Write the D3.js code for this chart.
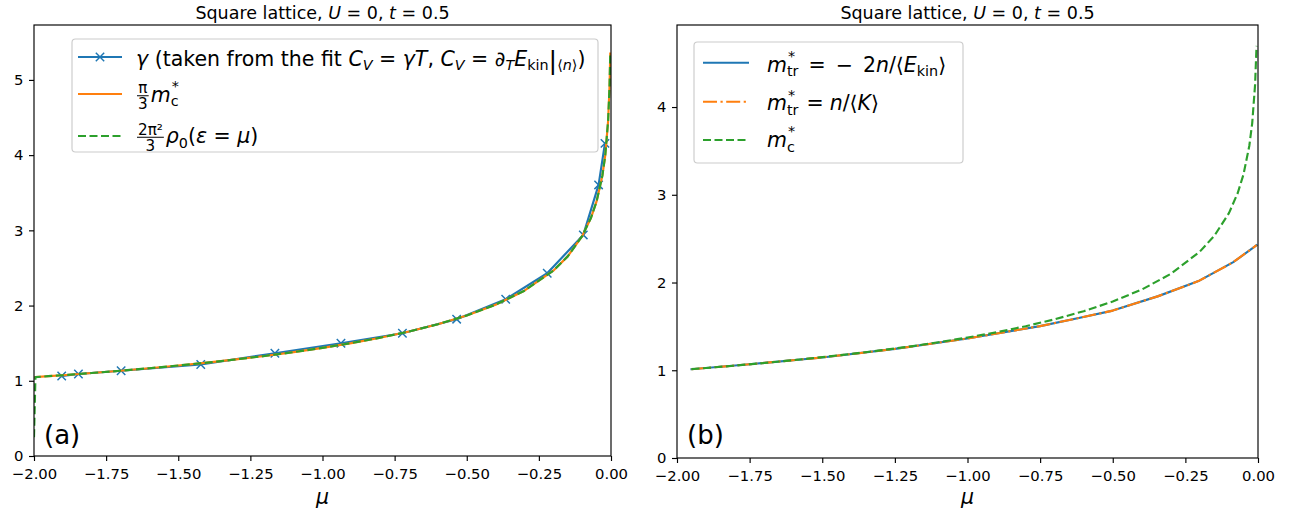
<!DOCTYPE html>
<html>
<head>
<meta charset="utf-8">
<script src="https://cdn.jsdelivr.net/npm/d3@7"></script>
<style>
  body { margin: 0; background: #fff; }
  svg { display: block; }
  text { font-family: "DejaVu Sans", sans-serif; white-space: pre; }
</style>
</head>
<body>
<svg id="fig" width="1293" height="516"></svg>
<script>
// ---------------- data ----------------
const muTicks = [-2, -1.75, -1.5, -1.25, -1, -0.75, -0.5, -0.25, 0];
const yTicksA = [0, 1, 2, 3, 4, 5];
const yTicksB = [0, 1, 2, 3, 4];

// (a) gamma from the linear fit of C_V
const gammaMu  = [-1.904, -1.846, -1.698, -1.422, -1.165, -0.936, -0.723, -0.535, -0.365, -0.221, -0.096, -0.043, -0.021];
const gammaVal = [1.064, 1.090, 1.134, 1.217, 1.366, 1.499, 1.632, 1.819, 2.084, 2.430, 2.939, 3.604, 4.156];

// (a) pi/3 * m_c*
const mcScaledMu  = [-1.995, -1.95, -1.9, -1.8, -1.7, -1.6, -1.5, -1.4, -1.3, -1.2, -1.1, -1.0, -0.9, -0.8, -0.7, -0.6, -0.5, -0.4, -0.3, -0.2, -0.15, -0.1, -0.07, -0.05, -0.03, -0.02, -0.01, -0.005, -0.0026];
const mcScaledVal = [1.049, 1.061, 1.074, 1.103, 1.134, 1.167, 1.203, 1.242, 1.284, 1.330, 1.381, 1.438, 1.501, 1.573, 1.655, 1.752, 1.868, 2.011, 2.198, 2.464, 2.654, 2.923, 3.160, 3.384, 3.724, 3.994, 4.456, 4.919, 5.35];

// (a) 2pi^2/3 * rho0(eps = mu)
const rhoMu  = [-2, -1.995, -1.95, -1.9, -1.8, -1.7, -1.6, -1.5, -1.4, -1.3, -1.2, -1.1, -1.0, -0.9, -0.8, -0.7, -0.6, -0.5, -0.4, -0.3, -0.2, -0.15, -0.1, -0.07, -0.05, -0.03, -0.02, -0.01, -0.005, -0.0026];
const rhoVal = [0.25, 1.049, 1.061, 1.074, 1.103, 1.134, 1.167, 1.203, 1.242, 1.284, 1.330, 1.381, 1.438, 1.501, 1.573, 1.655, 1.752, 1.868, 2.011, 2.198, 2.464, 2.654, 2.923, 3.160, 3.384, 3.724, 3.994, 4.456, 4.919, 5.35];

// (b) transport masses
const mtrMu      = [-1.95, -1.75, -1.5, -1.25, -1.0, -0.75, -0.613, -0.5, -0.343, -0.205, -0.085, -0.005];
const mtrEkinVal = [1.012, 1.068, 1.146, 1.243, 1.362, 1.503, 1.598, 1.680, 1.845, 2.016, 2.232, 2.425];
const mtrKVal    = [1.012, 1.068, 1.146, 1.243, 1.362, 1.503, 1.598, 1.680, 1.845, 2.016, 2.232, 2.425];

// (b) m_c*
const mcMu  = [-1.95, -1.9, -1.8, -1.7, -1.6, -1.5, -1.4, -1.3, -1.2, -1.1, -1.0, -0.9, -0.8, -0.7, -0.6, -0.5, -0.4, -0.3, -0.2, -0.15, -0.1, -0.07, -0.05, -0.03, -0.02, -0.01, -0.005];
const mcVal = [1.013, 1.026, 1.053, 1.083, 1.115, 1.149, 1.186, 1.226, 1.270, 1.319, 1.373, 1.433, 1.502, 1.581, 1.673, 1.783, 1.920, 2.099, 2.353, 2.534, 2.791, 3.018, 3.231, 3.556, 3.814, 4.256, 4.697];

// ---------------- style ----------------
const C_BLUE = "#1f77b4", C_ORANGE = "#ff7f0e", C_GREEN = "#2ca02c";
const LW = 2.15;
const DASH = "8,3.5";
const DASHDOT = "14,3.5,2.2,3.5";
const TICK_FS = 14.8, LEG_FS = 20.5, TITLE_FS = 17.5, TAG_FS = 26;
const MK = 4.2; // half size of the x marker

const svg = d3.select("#fig");
svg.append("rect").attr("width", 1293).attr("height", 516).attr("fill", "#fff");

// Lays out a row of math-like text pieces (italic, sub/superscripts, fractions, spacing).
function mathRow(parent, x, y, parts, fs, align) {
  const g = parent.append("g");
  let cx = 0;
  const put = (t, italic, size, dy, xx) => {
    const el = g.append("text")
      .attr("x", xx).attr("y", dy)
      .attr("font-size", size)
      .attr("font-style", italic ? "italic" : "normal")
      .attr("fill", "#000")
      .text(t);
    return el.node().getComputedTextLength();
  };
  for (const p of parts) {
    if (p.sp !== undefined) {
      cx += p.sp;
    } else if (p.frac) {
      const s = fs * 0.74;
      const n = g.append("text").attr("font-size", s).attr("text-anchor", "middle").text(p.frac[0]);
      const d = g.append("text").attr("font-size", s).attr("text-anchor", "middle").text(p.frac[1]);
      const w = Math.max(n.node().getComputedTextLength(), d.node().getComputedTextLength()) + 2;
      const mid = cx + 1 + w / 2;
      const bar = -fs * 0.28;
      n.attr("x", mid).attr("y", bar - fs * 0.12);
      d.attr("x", mid).attr("y", bar + fs * 0.12 + s * 0.73);
      g.append("line").attr("x1", cx + 1).attr("x2", cx + 1 + w)
        .attr("y1", bar).attr("y2", bar)
        .attr("stroke", "#000").attr("stroke-width", 1);
      cx += w + 3;
    } else if (p.ss) {
      const s = fs * 0.7;
      const w1 = put(p.ss[0], false, s, -fs * 0.5, cx + 1);
      const w2 = put(p.ss[1], false, s, fs * 0.24, cx);
      cx += Math.max(w1 + 1, w2);
    } else {
      const s = (p.sub || p.sup) ? fs * 0.7 : fs * (p.scale || 1);
      const dy = p.sub ? fs * 0.22 : p.sup ? -fs * 0.45 : (p.dy || 0);
      cx += put(p.t, p.i, s, dy, cx);
    }
  }
  const off = align === "middle" ? -cx / 2 : 0;
  g.attr("transform", `translate(${x + off},${y})`);
  return cx;
}

function drawPanel(cfg) {
  const x = d3.scaleLinear().domain([-2, 0]).range([cfg.left, cfg.right]);
  const y = d3.scaleLinear().domain([0, cfg.ymax]).range([cfg.bottom, cfg.top]);
  const g = svg.append("g");

  const clipId = "clip-" + cfg.id;
  svg.append("clipPath").attr("id", clipId)
    .append("rect")
    .attr("x", cfg.left).attr("y", cfg.top)
    .attr("width", cfg.right - cfg.left).attr("height", cfg.bottom - cfg.top);

  // axes
  const xAxis = d3.axisBottom(x).tickValues(muTicks).tickFormat(d3.format(".2f"))
    .tickSize(5).tickPadding(7.5);
  const yAxis = d3.axisLeft(y).tickValues(cfg.yticks).tickFormat(d3.format("d"))
    .tickSize(5).tickPadding(5.5);
  const gx = g.append("g").attr("transform", `translate(0,${cfg.bottom})`).call(xAxis);
  const gy = g.append("g").attr("transform", `translate(${cfg.left},0)`).call(yAxis);
  [gx, gy].forEach(a => {
    a.select(".domain").remove();
    a.selectAll(".tick line").attr("stroke", "#000").attr("stroke-width", 1.15);
    a.selectAll(".tick text").attr("fill", "#000")
      .attr("font-size", TICK_FS).attr("font-family", "DejaVu Sans");
  });

  const plot = g.append("g").attr("clip-path", `url(#${clipId})`);
  const line = d3.line().x(d => x(d[0])).y(d => y(d[1]));
  const pairs = (a, b) => a.map((m, i) => [m, b[i]]);
  const cross = `M${-MK},${-MK}L${MK},${MK}M${-MK},${MK}L${MK},${-MK}`;

  cfg.series.forEach(s => {
    const pts = pairs(s.mu, s.val);
    plot.append("path").attr("d", line(pts))
      .attr("fill", "none").attr("stroke", s.color)
      .attr("stroke-width", LW)
      .attr("stroke-dasharray", s.dash || null)
      .attr("stroke-linejoin", "round").attr("stroke-linecap", s.dash ? "butt" : "square");
    if (s.marker) {
      plot.selectAll(null).data(pts).enter().append("path")
        .attr("transform", d => `translate(${x(d[0])},${y(d[1])})`)
        .attr("d", cross)
        .attr("stroke", s.color).attr("stroke-width", 1.45).attr("fill", "none");
    }
  });

  // frame
  g.append("rect")
    .attr("x", cfg.left).attr("y", cfg.top)
    .attr("width", cfg.right - cfg.left).attr("height", cfg.bottom - cfg.top)
    .attr("fill", "none").attr("stroke", "#000").attr("stroke-width", 1.15);

  // title
  mathRow(g, (cfg.left + cfg.right) / 2, 18.5,
    [{ t: "Square lattice, " }, { t: "U", i: 1 }, { t: " = 0, " }, { t: "t", i: 1 }, { t: " = 0.5" }],
    TITLE_FS, "middle");

  // x label
  g.append("text").attr("x", (cfg.left + cfg.right) / 2).attr("y", 504)
    .attr("text-anchor", "middle").attr("font-size", LEG_FS).attr("font-style", "italic")
    .text("μ");

  // panel tag
  g.append("text").attr("x", cfg.left + 10).attr("y", 444)
    .attr("font-size", TAG_FS).text(cfg.tag);

  // legend
  const L = cfg.legend;
  g.append("rect").attr("x", L.x).attr("y", L.y).attr("width", L.w).attr("height", L.h)
    .attr("rx", 3.5).attr("fill", "#fff").attr("fill-opacity", 0.8)
    .attr("stroke", "#cccccc").attr("stroke-width", 1.15);
  L.rows.forEach(r => {
    g.append("line").attr("x1", L.hx0).attr("x2", L.hx1).attr("y1", r.hy).attr("y2", r.hy)
      .attr("stroke", r.color).attr("stroke-width", LW)
      .attr("stroke-dasharray", r.dash || null);
    if (r.marker) {
      g.append("path").attr("transform", `translate(${(L.hx0 + L.hx1) / 2},${r.hy})`)
        .attr("d", cross)
        .attr("stroke", r.color).attr("stroke-width", 1.45);
    }
    mathRow(g, L.tx, r.by, r.parts, LEG_FS);
  });
}

drawPanel({
  id: "a", tag: "(a)",
  left: 34, right: 611, top: 25, bottom: 456, ymax: 5.73, yticks: yTicksA,
  series: [
    { mu: gammaMu, val: gammaVal, color: C_BLUE, marker: true },
    { mu: mcScaledMu, val: mcScaledVal, color: C_ORANGE },
    { mu: rhoMu, val: rhoVal, color: C_GREEN, dash: DASH }
  ],
  legend: {
    x: 72, y: 39, w: 526, h: 113, hx0: 78, hx1: 122, tx: 136,
    rows: [
      { color: C_BLUE, marker: true, hy: 57, by: 65.5,
        parts: [{ t: "γ", i: 1 }, { t: " (taken from the fit " }, { t: "C", i: 1 }, { t: "V", i: 1, sub: 1 },
                { t: " = " }, { t: "γT", i: 1 }, { t: ", " }, { t: "C", i: 1 }, { t: "V", i: 1, sub: 1 },
                { t: " = " }, { t: "∂" }, { t: "T", i: 1, sub: 1 }, { t: "E", i: 1 }, { t: "kin", sub: 1 },
                { t: "|", scale: 1.25, dy: 3 }, { t: "⟨", sub: 1 }, { t: "n", i: 1, sub: 1 }, { t: "⟩", sub: 1 },
                { t: ")" }] },
      { color: C_ORANGE, hy: 94, by: 101.5,
        parts: [{ frac: ["π", "3"] }, { t: "m", i: 1 }, { ss: ["*", "c"] }] },
      { color: C_GREEN, dash: DASH, hy: 136, by: 143,
        parts: [{ frac: ["2π²", "3"] }, { t: "ρ", i: 1 }, { t: "0", sub: 1 }, { t: "(" }, { t: "ε", i: 1 },
                { t: " = " }, { t: "μ", i: 1 }, { t: ")" }] }
    ]
  }
});

drawPanel({
  id: "b", tag: "(b)",
  left: 677, right: 1258, top: 25, bottom: 458, ymax: 4.935, yticks: yTicksB,
  series: [
    { mu: mtrMu, val: mtrEkinVal, color: C_BLUE },
    { mu: mtrMu, val: mtrKVal, color: C_ORANGE, dash: DASHDOT },
    { mu: mcMu, val: mcVal, color: C_GREEN, dash: DASH }
  ],
  legend: {
    x: 694, y: 42, w: 269, h: 121, hx0: 703, hx1: 749, tx: 767,
    rows: [
      { color: C_BLUE, hy: 62.7, by: 71.5,
        parts: [{ t: "m", i: 1 }, { ss: ["*", "tr"] }, { sp: 10 }, { t: "=" }, { sp: 10 }, { t: "−" }, { sp: 10 },
                { t: "2" }, { t: "n", i: 1 }, { t: "/⟨" }, { t: "E", i: 1 }, { t: "kin", sub: 1 }, { t: "⟩" }] },
      { color: C_ORANGE, dash: DASHDOT, hy: 101.7, by: 110,
        parts: [{ t: "m", i: 1 }, { ss: ["*", "tr"] }, { sp: 8 }, { t: "=" }, { sp: 6 }, { t: "n", i: 1 },
                { t: "/⟨" }, { t: "K", i: 1 }, { t: "⟩" }] },
      { color: C_GREEN, dash: DASH, hy: 140, by: 146.7,
        parts: [{ t: "m", i: 1 }, { ss: ["*", "c"] }] }
    ]
  }
});
</script>
</body>
</html>
